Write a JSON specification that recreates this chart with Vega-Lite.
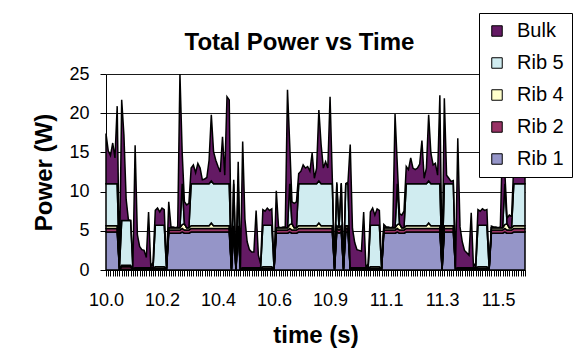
{
  "$schema": "https://vega.github.io/schema/vega-lite/v6.json",
  "width": 419,
  "height": 196,
  "autosize": {"type": "none"},
  "padding": {"left": 106, "top": 74, "right": 60, "bottom": 84},
  "background": "white",
  "config": {"font": "Liberation Sans", "view": {"stroke": null}},
  "title": {
    "text": "Total Power vs Time",
    "font": "Liberation Sans",
    "fontSize": 24,
    "fontWeight": "bold",
    "color": "black",
    "anchor": "middle",
    "frame": "group",
    "dx": -16,
    "offset": -42
  },
  "data": {
    "values": [
      {"t": 10.000, "Rib 1": 4.85, "Rib 2": 0.45, "Rib 4": 0.35, "Rib 5": 5.35, "Bulk": 6.4},
      {"t": 10.009, "Rib 1": 4.85, "Rib 2": 0.45, "Rib 4": 0.35, "Rib 5": 5.35, "Bulk": 4.2},
      {"t": 10.017, "Rib 1": 4.85, "Rib 2": 0.45, "Rib 4": 0.35, "Rib 5": 5.35, "Bulk": 3.6},
      {"t": 10.026, "Rib 1": 4.85, "Rib 2": 0.45, "Rib 4": 0.35, "Rib 5": 5.35, "Bulk": 5.2},
      {"t": 10.034, "Rib 1": 4.85, "Rib 2": 0.45, "Rib 4": 0.35, "Rib 5": 5.35, "Bulk": 3.3},
      {"t": 10.043, "Rib 1": 4.85, "Rib 2": 0.45, "Rib 4": 0.35, "Rib 5": 5.35, "Bulk": 9.9},
      {"t": 10.051, "Rib 1": 0.05, "Rib 2": 0.05, "Rib 4": 0.05, "Rib 5": 0.05, "Bulk": 0.2},
      {"t": 10.060, "Rib 1": 0.1, "Rib 2": 0.3, "Rib 4": 0.2, "Rib 5": 5.7, "Bulk": 15.4},
      {"t": 10.068, "Rib 1": 0.1, "Rib 2": 0.3, "Rib 4": 0.2, "Rib 5": 5.7, "Bulk": 10.9},
      {"t": 10.077, "Rib 1": 0.1, "Rib 2": 0.3, "Rib 4": 0.2, "Rib 5": 5.7, "Bulk": 2.7},
      {"t": 10.086, "Rib 1": 0.1, "Rib 2": 0.3, "Rib 4": 0.2, "Rib 5": 5.7, "Bulk": 0.1},
      {"t": 10.094, "Rib 1": 0.1, "Rib 2": 0.3, "Rib 4": 0.2, "Rib 5": 5.7, "Bulk": 0},
      {"t": 10.103, "Rib 1": 0.05, "Rib 2": 0.05, "Rib 4": 0.05, "Rib 5": 0.05, "Bulk": 0.2},
      {"t": 10.111, "Rib 1": 0.05, "Rib 2": 0.1, "Rib 4": 0.1, "Rib 5": 0.05, "Bulk": 15.6},
      {"t": 10.120, "Rib 1": 0.05, "Rib 2": 0.1, "Rib 4": 0.1, "Rib 5": 0.05, "Bulk": 4.2},
      {"t": 10.128, "Rib 1": 0.05, "Rib 2": 0.1, "Rib 4": 0.1, "Rib 5": 0.05, "Bulk": 2.7},
      {"t": 10.137, "Rib 1": 0.05, "Rib 2": 0.1, "Rib 4": 0.1, "Rib 5": 0.05, "Bulk": 2.3},
      {"t": 10.145, "Rib 1": 0.05, "Rib 2": 0.1, "Rib 4": 0.1, "Rib 5": 0.05, "Bulk": 2.2},
      {"t": 10.154, "Rib 1": 0.05, "Rib 2": 0.1, "Rib 4": 0.1, "Rib 5": 0.05, "Bulk": 1.3},
      {"t": 10.162, "Rib 1": 0.05, "Rib 2": 0.1, "Rib 4": 0.1, "Rib 5": 0.05, "Bulk": 7.1},
      {"t": 10.171, "Rib 1": 0.05, "Rib 2": 0.1, "Rib 4": 0.1, "Rib 5": 0.05, "Bulk": 0.1},
      {"t": 10.180, "Rib 1": 0.05, "Rib 2": 0.1, "Rib 4": 0.1, "Rib 5": 0.05, "Bulk": 0.7},
      {"t": 10.188, "Rib 1": 0.05, "Rib 2": 0.15, "Rib 4": 0.2, "Rib 5": 5.3, "Bulk": 1.9},
      {"t": 10.197, "Rib 1": 0.05, "Rib 2": 0.15, "Rib 4": 0.2, "Rib 5": 5.3, "Bulk": 2.2},
      {"t": 10.205, "Rib 1": 0.05, "Rib 2": 0.15, "Rib 4": 0.2, "Rib 5": 5.3, "Bulk": 1.7},
      {"t": 10.214, "Rib 1": 0.05, "Rib 2": 0.15, "Rib 4": 0.2, "Rib 5": 5.3, "Bulk": 2.2},
      {"t": 10.222, "Rib 1": 0.05, "Rib 2": 0.15, "Rib 4": 0.2, "Rib 5": 5.3, "Bulk": 2.0},
      {"t": 10.231, "Rib 1": 0.05, "Rib 2": 0.05, "Rib 4": 0.05, "Rib 5": 0.05, "Bulk": 0.2},
      {"t": 10.239, "Rib 1": 4.7, "Rib 2": 0.4, "Rib 4": 0.3, "Rib 5": 0, "Bulk": 3.3},
      {"t": 10.248, "Rib 1": 4.7, "Rib 2": 0.4, "Rib 4": 0.3, "Rib 5": 0, "Bulk": 0.1},
      {"t": 10.257, "Rib 1": 4.7, "Rib 2": 0.4, "Rib 4": 0.3, "Rib 5": 0, "Bulk": 0.1},
      {"t": 10.265, "Rib 1": 4.7, "Rib 2": 0.4, "Rib 4": 0.3, "Rib 5": 0, "Bulk": 0},
      {"t": 10.274, "Rib 1": 4.7, "Rib 2": 0.4, "Rib 4": 0.3, "Rib 5": 0, "Bulk": 0.1},
      {"t": 10.282, "Rib 1": 4.7, "Rib 2": 0.4, "Rib 4": 0.3, "Rib 5": 0, "Bulk": 19.6},
      {"t": 10.291, "Rib 1": 4.85, "Rib 2": 0.45, "Rib 4": 0.5, "Rib 5": 5.2, "Bulk": 4.0},
      {"t": 10.299, "Rib 1": 4.7, "Rib 2": 0.4, "Rib 4": 0.8, "Rib 5": 0, "Bulk": 2.8},
      {"t": 10.308, "Rib 1": 4.7, "Rib 2": 0.4, "Rib 4": 0.3, "Rib 5": 0, "Bulk": 2.9},
      {"t": 10.316, "Rib 1": 4.7, "Rib 2": 0.4, "Rib 4": 0.3, "Rib 5": 0, "Bulk": 3.1},
      {"t": 10.325, "Rib 1": 4.85, "Rib 2": 0.45, "Rib 4": 0.35, "Rib 5": 5.35, "Bulk": 2.0},
      {"t": 10.333, "Rib 1": 4.85, "Rib 2": 0.45, "Rib 4": 0.35, "Rib 5": 5.35, "Bulk": 2.4},
      {"t": 10.342, "Rib 1": 4.85, "Rib 2": 0.45, "Rib 4": 0.35, "Rib 5": 5.35, "Bulk": 1.4},
      {"t": 10.351, "Rib 1": 4.85, "Rib 2": 0.45, "Rib 4": 0.35, "Rib 5": 5.35, "Bulk": 2.6},
      {"t": 10.359, "Rib 1": 4.85, "Rib 2": 0.45, "Rib 4": 0.35, "Rib 5": 5.35, "Bulk": 2.0},
      {"t": 10.368, "Rib 1": 4.85, "Rib 2": 0.45, "Rib 4": 0.35, "Rib 5": 5.35, "Bulk": 0.5},
      {"t": 10.376, "Rib 1": 4.85, "Rib 2": 0.45, "Rib 4": 0.35, "Rib 5": 5.35, "Bulk": 0.6},
      {"t": 10.385, "Rib 1": 4.85, "Rib 2": 0.45, "Rib 4": 0.35, "Rib 5": 5.35, "Bulk": 0.8},
      {"t": 10.393, "Rib 1": 4.85, "Rib 2": 0.45, "Rib 4": 0.35, "Rib 5": 5.35, "Bulk": 3.0},
      {"t": 10.402, "Rib 1": 4.85, "Rib 2": 0.45, "Rib 4": 0.7, "Rib 5": 5.35, "Bulk": 8.45},
      {"t": 10.410, "Rib 1": 4.85, "Rib 2": 0.45, "Rib 4": 0.35, "Rib 5": 5.35, "Bulk": 4.1},
      {"t": 10.419, "Rib 1": 4.85, "Rib 2": 0.45, "Rib 4": 0.35, "Rib 5": 5.35, "Bulk": 3.0},
      {"t": 10.428, "Rib 1": 4.85, "Rib 2": 0.45, "Rib 4": 0.35, "Rib 5": 5.35, "Bulk": 2.2},
      {"t": 10.436, "Rib 1": 4.85, "Rib 2": 0.45, "Rib 4": 0.35, "Rib 5": 5.35, "Bulk": 1.5},
      {"t": 10.445, "Rib 1": 4.85, "Rib 2": 0.45, "Rib 4": 0.35, "Rib 5": 5.35, "Bulk": 6.0},
      {"t": 10.453, "Rib 1": 4.85, "Rib 2": 0.45, "Rib 4": 0.35, "Rib 5": 5.35, "Bulk": 1.1},
      {"t": 10.462, "Rib 1": 4.85, "Rib 2": 0.45, "Rib 4": 0.35, "Rib 5": 5.35, "Bulk": 11.1},
      {"t": 10.470, "Rib 1": 4.85, "Rib 2": 0.45, "Rib 4": 0.35, "Rib 5": 5.35, "Bulk": 10.7},
      {"t": 10.479, "Rib 1": 0.05, "Rib 2": 0.05, "Rib 4": 0.05, "Rib 5": 0.05, "Bulk": 0.2},
      {"t": 10.487, "Rib 1": 4.85, "Rib 2": 0.45, "Rib 4": 0.35, "Rib 5": 5.35, "Bulk": 0.5},
      {"t": 10.496, "Rib 1": 0.05, "Rib 2": 0.05, "Rib 4": 0.05, "Rib 5": 0.05, "Bulk": 0.2},
      {"t": 10.504, "Rib 1": 4.85, "Rib 2": 0.45, "Rib 4": 0.35, "Rib 5": 5.35, "Bulk": 2.8},
      {"t": 10.513, "Rib 1": 0.05, "Rib 2": 0.05, "Rib 4": 0.05, "Rib 5": 0.05, "Bulk": 0.2},
      {"t": 10.522, "Rib 1": 0.05, "Rib 2": 0.1, "Rib 4": 0.1, "Rib 5": 0.05, "Bulk": 16.1},
      {"t": 10.530, "Rib 1": 0.05, "Rib 2": 0.1, "Rib 4": 0.1, "Rib 5": 0.05, "Bulk": 6.2},
      {"t": 10.539, "Rib 1": 0.05, "Rib 2": 0.1, "Rib 4": 0.1, "Rib 5": 0.05, "Bulk": 3.3},
      {"t": 10.547, "Rib 1": 0.05, "Rib 2": 0.1, "Rib 4": 0.1, "Rib 5": 0.05, "Bulk": 2.3},
      {"t": 10.556, "Rib 1": 0.05, "Rib 2": 0.1, "Rib 4": 0.1, "Rib 5": 0.05, "Bulk": 2.0},
      {"t": 10.564, "Rib 1": 0.05, "Rib 2": 0.1, "Rib 4": 0.1, "Rib 5": 0.05, "Bulk": 2.0},
      {"t": 10.573, "Rib 1": 0.05, "Rib 2": 0.1, "Rib 4": 0.1, "Rib 5": 0.05, "Bulk": 7.3},
      {"t": 10.581, "Rib 1": 0.05, "Rib 2": 0.1, "Rib 4": 0.1, "Rib 5": 0.05, "Bulk": 1.6},
      {"t": 10.590, "Rib 1": 0.05, "Rib 2": 0.1, "Rib 4": 0.1, "Rib 5": 0.05, "Bulk": 0.5},
      {"t": 10.599, "Rib 1": 0.05, "Rib 2": 0.15, "Rib 4": 0.2, "Rib 5": 5.3, "Bulk": 2.0},
      {"t": 10.607, "Rib 1": 0.05, "Rib 2": 0.15, "Rib 4": 0.2, "Rib 5": 5.3, "Bulk": 1.8},
      {"t": 10.616, "Rib 1": 0.05, "Rib 2": 0.15, "Rib 4": 0.2, "Rib 5": 5.3, "Bulk": 2.2},
      {"t": 10.624, "Rib 1": 0.05, "Rib 2": 0.15, "Rib 4": 0.2, "Rib 5": 5.3, "Bulk": 1.9},
      {"t": 10.633, "Rib 1": 0.05, "Rib 2": 0.15, "Rib 4": 0.2, "Rib 5": 5.3, "Bulk": 2.1},
      {"t": 10.641, "Rib 1": 0.05, "Rib 2": 0.05, "Rib 4": 0.05, "Rib 5": 0.05, "Bulk": 0.2},
      {"t": 10.650, "Rib 1": 4.7, "Rib 2": 0.4, "Rib 4": 0.3, "Rib 5": 0, "Bulk": 4.7},
      {"t": 10.658, "Rib 1": 4.7, "Rib 2": 0.4, "Rib 4": 0.3, "Rib 5": 0, "Bulk": 0.1},
      {"t": 10.667, "Rib 1": 4.7, "Rib 2": 0.4, "Rib 4": 0.3, "Rib 5": 0, "Bulk": 0},
      {"t": 10.675, "Rib 1": 4.7, "Rib 2": 0.4, "Rib 4": 0.3, "Rib 5": 0, "Bulk": 0.1},
      {"t": 10.684, "Rib 1": 4.7, "Rib 2": 0.4, "Rib 4": 0.3, "Rib 5": 0, "Bulk": 0.1},
      {"t": 10.693, "Rib 1": 4.7, "Rib 2": 0.4, "Rib 4": 0.3, "Rib 5": 0, "Bulk": 17.6},
      {"t": 10.701, "Rib 1": 4.85, "Rib 2": 0.45, "Rib 4": 0.5, "Rib 5": 5.2, "Bulk": 5.0},
      {"t": 10.710, "Rib 1": 4.7, "Rib 2": 0.4, "Rib 4": 0.8, "Rib 5": 0, "Bulk": 2.8},
      {"t": 10.718, "Rib 1": 4.7, "Rib 2": 0.4, "Rib 4": 0.3, "Rib 5": 0, "Bulk": 3.1},
      {"t": 10.727, "Rib 1": 4.7, "Rib 2": 0.4, "Rib 4": 0.3, "Rib 5": 0, "Bulk": 3.3},
      {"t": 10.735, "Rib 1": 4.85, "Rib 2": 0.45, "Rib 4": 0.35, "Rib 5": 5.35, "Bulk": 1.3},
      {"t": 10.744, "Rib 1": 4.85, "Rib 2": 0.45, "Rib 4": 0.35, "Rib 5": 5.35, "Bulk": 1.6},
      {"t": 10.752, "Rib 1": 4.85, "Rib 2": 0.45, "Rib 4": 0.35, "Rib 5": 5.35, "Bulk": 2.4},
      {"t": 10.761, "Rib 1": 4.85, "Rib 2": 0.45, "Rib 4": 0.35, "Rib 5": 5.35, "Bulk": 2.0},
      {"t": 10.770, "Rib 1": 4.85, "Rib 2": 0.45, "Rib 4": 0.35, "Rib 5": 5.35, "Bulk": 2.2},
      {"t": 10.778, "Rib 1": 4.85, "Rib 2": 0.45, "Rib 4": 0.35, "Rib 5": 5.35, "Bulk": 1.6},
      {"t": 10.787, "Rib 1": 4.85, "Rib 2": 0.45, "Rib 4": 0.35, "Rib 5": 5.35, "Bulk": 3.9},
      {"t": 10.795, "Rib 1": 4.85, "Rib 2": 0.45, "Rib 4": 0.35, "Rib 5": 5.35, "Bulk": 0.7},
      {"t": 10.804, "Rib 1": 4.85, "Rib 2": 0.45, "Rib 4": 0.35, "Rib 5": 5.35, "Bulk": 2.0},
      {"t": 10.812, "Rib 1": 4.85, "Rib 2": 0.45, "Rib 4": 0.7, "Rib 5": 5.35, "Bulk": 9.05},
      {"t": 10.821, "Rib 1": 4.85, "Rib 2": 0.45, "Rib 4": 0.35, "Rib 5": 5.35, "Bulk": 5.0},
      {"t": 10.829, "Rib 1": 4.85, "Rib 2": 0.45, "Rib 4": 0.35, "Rib 5": 5.35, "Bulk": 2.0},
      {"t": 10.838, "Rib 1": 4.85, "Rib 2": 0.45, "Rib 4": 0.35, "Rib 5": 5.35, "Bulk": 2.8},
      {"t": 10.846, "Rib 1": 4.85, "Rib 2": 0.45, "Rib 4": 0.35, "Rib 5": 5.35, "Bulk": 2.0},
      {"t": 10.855, "Rib 1": 4.85, "Rib 2": 0.45, "Rib 4": 0.35, "Rib 5": 5.35, "Bulk": 11.1},
      {"t": 10.864, "Rib 1": 4.85, "Rib 2": 0.45, "Rib 4": 0.35, "Rib 5": 5.35, "Bulk": 0.7},
      {"t": 10.872, "Rib 1": 0.05, "Rib 2": 0.05, "Rib 4": 0.05, "Rib 5": 0.05, "Bulk": 0.2},
      {"t": 10.881, "Rib 1": 4.85, "Rib 2": 0.45, "Rib 4": 0.35, "Rib 5": 5.35, "Bulk": 0.2},
      {"t": 10.889, "Rib 1": 4.7, "Rib 2": 0.4, "Rib 4": 0.3, "Rib 5": 0, "Bulk": 0},
      {"t": 10.898, "Rib 1": 4.85, "Rib 2": 0.45, "Rib 4": 0.35, "Rib 5": 5.35, "Bulk": 0.1},
      {"t": 10.906, "Rib 1": 0.05, "Rib 2": 0.05, "Rib 4": 0.05, "Rib 5": 0.05, "Bulk": 0.2},
      {"t": 10.915, "Rib 1": 4.85, "Rib 2": 0.45, "Rib 4": 0.35, "Rib 5": 5.35, "Bulk": 0},
      {"t": 10.923, "Rib 1": 4.85, "Rib 2": 0.45, "Rib 4": 0.35, "Rib 5": 5.35, "Bulk": 0.2},
      {"t": 10.932, "Rib 1": 0.05, "Rib 2": 0.1, "Rib 4": 0.1, "Rib 5": 0.05, "Bulk": 15.7},
      {"t": 10.941, "Rib 1": 0.05, "Rib 2": 0.1, "Rib 4": 0.1, "Rib 5": 0.05, "Bulk": 5.0},
      {"t": 10.949, "Rib 1": 0.05, "Rib 2": 0.1, "Rib 4": 0.1, "Rib 5": 0.05, "Bulk": 3.2},
      {"t": 10.958, "Rib 1": 0.05, "Rib 2": 0.1, "Rib 4": 0.1, "Rib 5": 0.05, "Bulk": 2.3},
      {"t": 10.966, "Rib 1": 0.05, "Rib 2": 0.1, "Rib 4": 0.1, "Rib 5": 0.05, "Bulk": 2.2},
      {"t": 10.975, "Rib 1": 0.05, "Rib 2": 0.1, "Rib 4": 0.1, "Rib 5": 0.05, "Bulk": 2.1},
      {"t": 10.983, "Rib 1": 0.05, "Rib 2": 0.1, "Rib 4": 0.1, "Rib 5": 0.05, "Bulk": 7.1},
      {"t": 10.992, "Rib 1": 0.05, "Rib 2": 0.1, "Rib 4": 0.1, "Rib 5": 0.05, "Bulk": 0},
      {"t": 11.000, "Rib 1": 0.05, "Rib 2": 0.1, "Rib 4": 0.1, "Rib 5": 0.05, "Bulk": 0.5},
      {"t": 11.009, "Rib 1": 0.05, "Rib 2": 0.15, "Rib 4": 0.2, "Rib 5": 5.3, "Bulk": 1.7},
      {"t": 11.017, "Rib 1": 0.05, "Rib 2": 0.15, "Rib 4": 0.2, "Rib 5": 5.3, "Bulk": 2.2},
      {"t": 11.026, "Rib 1": 0.05, "Rib 2": 0.15, "Rib 4": 0.2, "Rib 5": 5.3, "Bulk": 1.3},
      {"t": 11.035, "Rib 1": 0.05, "Rib 2": 0.15, "Rib 4": 0.2, "Rib 5": 5.3, "Bulk": 2.1},
      {"t": 11.043, "Rib 1": 0.05, "Rib 2": 0.15, "Rib 4": 0.2, "Rib 5": 5.3, "Bulk": 1.9},
      {"t": 11.052, "Rib 1": 0.05, "Rib 2": 0.05, "Rib 4": 0.05, "Rib 5": 0.05, "Bulk": 0.2},
      {"t": 11.060, "Rib 1": 4.7, "Rib 2": 0.4, "Rib 4": 0.3, "Rib 5": 0, "Bulk": 0.4},
      {"t": 11.069, "Rib 1": 4.7, "Rib 2": 0.4, "Rib 4": 0.3, "Rib 5": 0, "Bulk": 0.1},
      {"t": 11.077, "Rib 1": 4.7, "Rib 2": 0.4, "Rib 4": 0.3, "Rib 5": 0, "Bulk": 0.1},
      {"t": 11.086, "Rib 1": 4.7, "Rib 2": 0.4, "Rib 4": 0.3, "Rib 5": 0, "Bulk": 0},
      {"t": 11.094, "Rib 1": 4.7, "Rib 2": 0.4, "Rib 4": 0.3, "Rib 5": 0, "Bulk": 0.1},
      {"t": 11.103, "Rib 1": 4.7, "Rib 2": 0.4, "Rib 4": 0.3, "Rib 5": 0, "Bulk": 14.5},
      {"t": 11.112, "Rib 1": 4.85, "Rib 2": 0.45, "Rib 4": 0.5, "Rib 5": 5.2, "Bulk": 2.5},
      {"t": 11.120, "Rib 1": 4.7, "Rib 2": 0.4, "Rib 4": 0.8, "Rib 5": 0, "Bulk": 1.3},
      {"t": 11.129, "Rib 1": 4.7, "Rib 2": 0.4, "Rib 4": 0.3, "Rib 5": 0, "Bulk": 1.6},
      {"t": 11.137, "Rib 1": 4.7, "Rib 2": 0.4, "Rib 4": 0.3, "Rib 5": 0, "Bulk": 2.1},
      {"t": 11.146, "Rib 1": 4.85, "Rib 2": 0.45, "Rib 4": 0.35, "Rib 5": 5.35, "Bulk": 2.2},
      {"t": 11.154, "Rib 1": 4.85, "Rib 2": 0.45, "Rib 4": 0.35, "Rib 5": 5.35, "Bulk": 1.8},
      {"t": 11.163, "Rib 1": 4.85, "Rib 2": 0.45, "Rib 4": 0.35, "Rib 5": 5.35, "Bulk": 3.3},
      {"t": 11.171, "Rib 1": 4.85, "Rib 2": 0.45, "Rib 4": 0.35, "Rib 5": 5.35, "Bulk": 2.0},
      {"t": 11.180, "Rib 1": 4.85, "Rib 2": 0.45, "Rib 4": 0.35, "Rib 5": 5.35, "Bulk": 1.8},
      {"t": 11.188, "Rib 1": 4.85, "Rib 2": 0.45, "Rib 4": 0.35, "Rib 5": 5.35, "Bulk": 2.0},
      {"t": 11.197, "Rib 1": 4.85, "Rib 2": 0.45, "Rib 4": 0.35, "Rib 5": 5.35, "Bulk": 2.5},
      {"t": 11.206, "Rib 1": 4.85, "Rib 2": 0.45, "Rib 4": 0.35, "Rib 5": 5.35, "Bulk": 5.5},
      {"t": 11.214, "Rib 1": 4.85, "Rib 2": 0.45, "Rib 4": 0.35, "Rib 5": 5.35, "Bulk": 0.7},
      {"t": 11.223, "Rib 1": 4.85, "Rib 2": 0.45, "Rib 4": 0.35, "Rib 5": 5.35, "Bulk": 2.0},
      {"t": 11.231, "Rib 1": 4.85, "Rib 2": 0.45, "Rib 4": 0.7, "Rib 5": 5.35, "Bulk": 8.45},
      {"t": 11.240, "Rib 1": 4.85, "Rib 2": 0.45, "Rib 4": 0.35, "Rib 5": 5.35, "Bulk": 3.9},
      {"t": 11.248, "Rib 1": 4.85, "Rib 2": 0.45, "Rib 4": 0.35, "Rib 5": 5.35, "Bulk": 2.4},
      {"t": 11.257, "Rib 1": 4.85, "Rib 2": 0.45, "Rib 4": 0.35, "Rib 5": 5.35, "Bulk": 2.6},
      {"t": 11.265, "Rib 1": 4.85, "Rib 2": 0.45, "Rib 4": 0.35, "Rib 5": 5.35, "Bulk": 1.1},
      {"t": 11.274, "Rib 1": 4.85, "Rib 2": 0.45, "Rib 4": 0.35, "Rib 5": 5.35, "Bulk": 11.3},
      {"t": 11.283, "Rib 1": 0.05, "Rib 2": 0.05, "Rib 4": 0.05, "Rib 5": 0.05, "Bulk": 0.2},
      {"t": 11.291, "Rib 1": 4.85, "Rib 2": 0.45, "Rib 4": 0.35, "Rib 5": 5.35, "Bulk": 10.9},
      {"t": 11.300, "Rib 1": 4.85, "Rib 2": 0.45, "Rib 4": 0.35, "Rib 5": 5.35, "Bulk": 1.1},
      {"t": 11.308, "Rib 1": 4.85, "Rib 2": 0.45, "Rib 4": 0.35, "Rib 5": 5.35, "Bulk": 0.7},
      {"t": 11.317, "Rib 1": 4.85, "Rib 2": 0.45, "Rib 4": 0.35, "Rib 5": 5.35, "Bulk": 0.3},
      {"t": 11.325, "Rib 1": 4.85, "Rib 2": 0.45, "Rib 4": 0.35, "Rib 5": 5.35, "Bulk": 0.4},
      {"t": 11.334, "Rib 1": 0.05, "Rib 2": 0.05, "Rib 4": 0.05, "Rib 5": 0.05, "Bulk": 0.2},
      {"t": 11.342, "Rib 1": 0.05, "Rib 2": 0.1, "Rib 4": 0.1, "Rib 5": 0.05, "Bulk": 16.5},
      {"t": 11.351, "Rib 1": 0.05, "Rib 2": 0.1, "Rib 4": 0.1, "Rib 5": 0.05, "Bulk": 5.2},
      {"t": 11.359, "Rib 1": 0.05, "Rib 2": 0.1, "Rib 4": 0.1, "Rib 5": 0.05, "Bulk": 3.3},
      {"t": 11.368, "Rib 1": 0.05, "Rib 2": 0.1, "Rib 4": 0.1, "Rib 5": 0.05, "Bulk": 2.2},
      {"t": 11.377, "Rib 1": 0.05, "Rib 2": 0.1, "Rib 4": 0.1, "Rib 5": 0.05, "Bulk": 1.9},
      {"t": 11.385, "Rib 1": 0.05, "Rib 2": 0.1, "Rib 4": 0.1, "Rib 5": 0.05, "Bulk": 1.6},
      {"t": 11.394, "Rib 1": 0.05, "Rib 2": 0.1, "Rib 4": 0.1, "Rib 5": 0.05, "Bulk": 7.0},
      {"t": 11.402, "Rib 1": 0.05, "Rib 2": 0.1, "Rib 4": 0.1, "Rib 5": 0.05, "Bulk": 0.1},
      {"t": 11.411, "Rib 1": 0.05, "Rib 2": 0.1, "Rib 4": 0.1, "Rib 5": 0.05, "Bulk": 0.6},
      {"t": 11.419, "Rib 1": 0.05, "Rib 2": 0.15, "Rib 4": 0.2, "Rib 5": 5.3, "Bulk": 2.0},
      {"t": 11.428, "Rib 1": 0.05, "Rib 2": 0.15, "Rib 4": 0.2, "Rib 5": 5.3, "Bulk": 1.8},
      {"t": 11.436, "Rib 1": 0.05, "Rib 2": 0.15, "Rib 4": 0.2, "Rib 5": 5.3, "Bulk": 2.1},
      {"t": 11.445, "Rib 1": 0.05, "Rib 2": 0.15, "Rib 4": 0.2, "Rib 5": 5.3, "Bulk": 1.9},
      {"t": 11.454, "Rib 1": 0.05, "Rib 2": 0.15, "Rib 4": 0.2, "Rib 5": 5.3, "Bulk": 2.0},
      {"t": 11.462, "Rib 1": 0.05, "Rib 2": 0.05, "Rib 4": 0.05, "Rib 5": 0.05, "Bulk": 0.2},
      {"t": 11.471, "Rib 1": 4.7, "Rib 2": 0.4, "Rib 4": 0.3, "Rib 5": 0, "Bulk": 0.2},
      {"t": 11.479, "Rib 1": 4.7, "Rib 2": 0.4, "Rib 4": 0.3, "Rib 5": 0, "Bulk": 0.1},
      {"t": 11.488, "Rib 1": 4.7, "Rib 2": 0.4, "Rib 4": 0.3, "Rib 5": 0, "Bulk": 0.1},
      {"t": 11.496, "Rib 1": 4.7, "Rib 2": 0.4, "Rib 4": 0.3, "Rib 5": 0, "Bulk": 0},
      {"t": 11.505, "Rib 1": 4.7, "Rib 2": 0.4, "Rib 4": 0.3, "Rib 5": 0, "Bulk": 0.1},
      {"t": 11.513, "Rib 1": 4.7, "Rib 2": 0.4, "Rib 4": 0.3, "Rib 5": 0, "Bulk": 11.6},
      {"t": 11.522, "Rib 1": 4.85, "Rib 2": 0.45, "Rib 4": 0.5, "Rib 5": 5.2, "Bulk": 1.5},
      {"t": 11.530, "Rib 1": 4.7, "Rib 2": 0.4, "Rib 4": 0.8, "Rib 5": 0, "Bulk": 0.7},
      {"t": 11.539, "Rib 1": 4.7, "Rib 2": 0.4, "Rib 4": 0.3, "Rib 5": 0, "Bulk": 1.6},
      {"t": 11.548, "Rib 1": 4.7, "Rib 2": 0.4, "Rib 4": 0.3, "Rib 5": 0, "Bulk": 1.4},
      {"t": 11.556, "Rib 1": 4.85, "Rib 2": 0.45, "Rib 4": 0.35, "Rib 5": 5.35, "Bulk": 2.5},
      {"t": 11.565, "Rib 1": 4.85, "Rib 2": 0.45, "Rib 4": 0.35, "Rib 5": 5.35, "Bulk": 3.0},
      {"t": 11.573, "Rib 1": 4.85, "Rib 2": 0.45, "Rib 4": 0.35, "Rib 5": 5.35, "Bulk": 2.0},
      {"t": 11.582, "Rib 1": 4.85, "Rib 2": 0.45, "Rib 4": 0.35, "Rib 5": 5.35, "Bulk": 2.8},
      {"t": 11.590, "Rib 1": 4.85, "Rib 2": 0.45, "Rib 4": 0.35, "Rib 5": 5.35, "Bulk": 1.8},
      {"t": 11.599, "Rib 1": 4.85, "Rib 2": 0.45, "Rib 4": 0.35, "Rib 5": 5.35, "Bulk": 2.2}
    ]
  },
  "transform": [
    {"fold": ["Rib 1", "Rib 2", "Rib 4", "Rib 5", "Bulk"], "as": ["series", "watts"]},
    {
      "lookup": "series",
      "from": {
        "data": {
          "values": [
            {"series": "Rib 1", "layer": 1},
            {"series": "Rib 2", "layer": 2},
            {"series": "Rib 4", "layer": 3},
            {"series": "Rib 5", "layer": 4},
            {"series": "Bulk", "layer": 5}
          ]
        },
        "key": "series",
        "fields": ["layer"]
      }
    }
  ],
  "mark": {"type": "area", "interpolate": "linear", "opacity": 1, "stroke": "black", "strokeWidth": 1.5, "strokeJoin": "miter"},
  "encoding": {
    "x": {
      "field": "t",
      "type": "ordinal",
      "scale": {"type": "point", "padding": 0},
      "axis": {
        "title": "time (s)",
        "titleFont": "Liberation Sans",
        "titleFontSize": 24,
        "titleFontWeight": "bold",
        "titleColor": "black",
        "titlePadding": 14,
        "labelFont": "Liberation Sans",
        "labelFontSize": 18,
        "labelColor": "black",
        "labelAngle": 0,
        "labelPadding": 15,
        "labelOverlap": false,
        "labelExpr": "round(datum.index * 187) % 25 == 0 ? format(datum.value, '.1f') : ''",
        "tickSize": 6,
        "tickColor": "black",
        "tickWidth": 1,
        "domainColor": "black",
        "domainWidth": 1,
        "grid": false
      }
    },
    "y": {
      "field": "watts",
      "type": "quantitative",
      "stack": "zero",
      "scale": {"domain": [0, 25], "nice": false},
      "axis": {
        "title": "Power (W)",
        "titleFont": "Liberation Sans",
        "titleFontSize": 24,
        "titleFontWeight": "bold",
        "titleColor": "black",
        "titlePadding": 12,
        "values": [0, 5, 10, 15, 20, 25],
        "labelFont": "Liberation Sans",
        "labelFontSize": 18,
        "labelColor": "black",
        "labelPadding": 11,
        "tickSize": 6,
        "tickColor": "black",
        "domainColor": "black",
        "grid": true,
        "gridColor": "#1a1a1a",
        "gridWidth": 1
      }
    },
    "order": {"field": "layer", "type": "quantitative", "sort": "ascending"},
    "color": {
      "field": "series",
      "type": "nominal",
      "scale": {
        "domain": ["Bulk", "Rib 5", "Rib 4", "Rib 2", "Rib 1"],
        "range": ["#641a64", "#d0ecf0", "#ffffcc", "#993366", "#9595c8"]
      },
      "legend": {
        "title": null,
        "orient": "none",
        "legendX": 373,
        "legendY": -61,
        "symbolType": "square",
        "symbolSize": 110,
        "symbolStrokeColor": "black",
        "symbolStrokeWidth": 1,
        "symbolOpacity": 1,
        "labelFont": "Liberation Sans",
        "labelFontSize": 20,
        "labelColor": "black",
        "labelOffset": 10,
        "rowPadding": 12,
        "padding": 8,
        "fillColor": "white",
        "strokeColor": "black"
      }
    }
  }
}
